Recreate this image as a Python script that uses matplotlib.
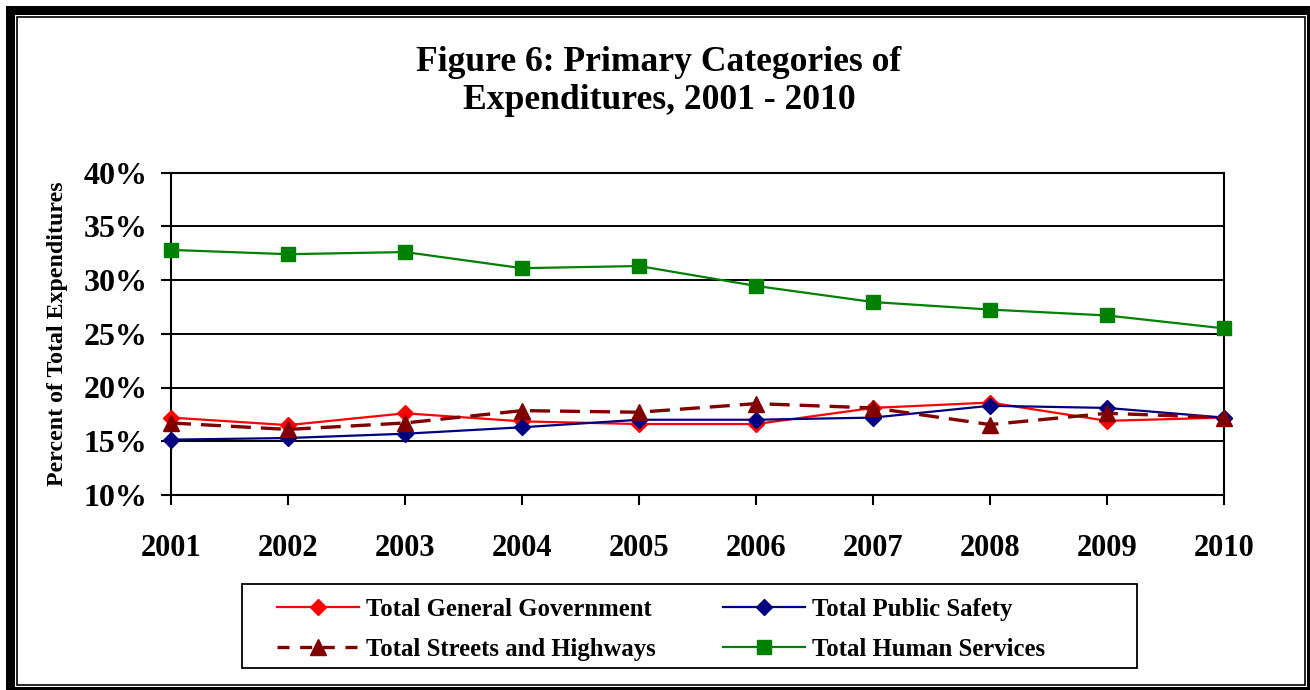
import matplotlib
matplotlib.use("Agg")
import matplotlib.pyplot as plt
from matplotlib.lines import Line2D
from matplotlib.patches import Rectangle
from matplotlib.ticker import FuncFormatter

# Share of total expenditures (percent), by year
years = ["2001", "2002", "2003", "2004", "2005", "2006", "2007", "2008", "2009", "2010"]
general_government = [17.2, 16.5, 17.6, 16.85, 16.6, 16.6, 18.1, 18.6, 16.9, 17.2]
public_safety = [15.15, 15.3, 15.7, 16.3, 17.0, 17.0, 17.2, 18.3, 18.1, 17.2]
streets_highways = [16.7, 16.1, 16.7, 17.85, 17.7, 18.5, 18.1, 16.55, 17.6, 17.2]
human_services = [32.8, 32.4, 32.6, 31.1, 31.3, 29.45, 27.95, 27.25, 26.7, 25.5]

series_labels = ["Total General Government", "Total Public Safety",
                 "Total Streets and Highways", "Total Human Services"]
y_ticks = [10, 15, 20, 25, 30, 35, 40]

plt.rcParams["font.family"] = ["Liberation Serif", "DejaVu Serif"]
plt.rcParams["font.weight"] = "bold"

W, H = 1310, 690
fig = plt.figure(figsize=(W / 100, H / 100), dpi=100)
fig.patch.set_facecolor("white")


def fx(px):
    return px / W


def fy(py):
    return 1 - py / H


# Double frame around the chart
fig.add_artist(Rectangle((fx(6), 0), 1 - fx(6), fy(6), transform=fig.transFigure,
                         facecolor="black", edgecolor="none", zorder=-10))
fig.add_artist(Rectangle((fx(14.5), fy(687)), fx(1307 - 14.5), (687 - 14.5) / H,
                         transform=fig.transFigure, facecolor="white",
                         edgecolor="none", zorder=-9))
fig.add_artist(Rectangle((fx(16.8), fy(685.3)), fx(1305 - 16.8), (685.3 - 16.8) / H,
                         transform=fig.transFigure, facecolor="none",
                         edgecolor="black", linewidth=1.2, zorder=-8))

# Legend box
fig.add_artist(Rectangle((fx(242), fy(668)), fx(1137 - 242), (668 - 584) / H,
                         transform=fig.transFigure, facecolor="white",
                         edgecolor="black", linewidth=1.3, zorder=-5))

ax = fig.add_axes([fx(171), fy(495), fx(1224 - 171), (495 - 172.5) / H])
ax.set_facecolor("white")

x = list(range(len(years)))
l_gen, = ax.plot(x, general_government, color="#FF0000", lw=1.6, marker="D",
                 ms=8, mec="#FF0000", mfc="#FF0000", clip_on=False, zorder=3)
l_ps, = ax.plot(x, public_safety, color="#000080", lw=1.6, marker="D",
                ms=8, mec="#000080", mfc="#000080", clip_on=False, zorder=4)
l_st, = ax.plot(x, streets_highways, color="#800000", lw=2.4, marker="^",
                ms=11, mec="#800000", mfc="#800000", dashes=(6, 3),
                clip_on=False, zorder=5)
l_hs, = ax.plot(x, human_services, color="#008000", lw=1.6, marker="s",
                ms=10, mec="#008000", mfc="#008000", clip_on=False, zorder=6)

# Legend key for the dashed series uses a shorter dash pattern
st_key = Line2D([], [], color="#800000", lw=2.4, marker="^", ms=11,
                mec="#800000", mfc="#800000", dashes=(3.6, 3.2))

ax.set_xlim(0, len(years) - 1)
ax.set_ylim(10, 40)
ax.set_yticks(y_ticks)
ax.yaxis.set_major_formatter(FuncFormatter(lambda v, p: f"{v:.0f}%"))
ax.set_xticks(x)
ax.set_xticklabels(years)

ax.grid(axis="y", color="black", lw=1.4)
ax.set_axisbelow(True)
for s in ax.spines.values():
    s.set_color("black")
    s.set_linewidth(1.5)

ax.tick_params(axis="y", direction="out", length=7, width=1.5, pad=10,
               labelsize=23, right=False)
ax.tick_params(axis="x", direction="out", length=7, width=1.5, pad=21,
               labelsize=22, top=False)
for lbl in ax.get_xticklabels() + ax.get_yticklabels():
    lbl.set_fontweight("bold")

# Title and axis label
fig.text(fx(659), fy(71), "Figure 6: Primary Categories of", ha="center",
         va="baseline", fontsize=25.6, fontweight="bold")
fig.text(fx(659), fy(109), "Expenditures, 2001 - 2010", ha="center",
         va="baseline", fontsize=25.6, fontweight="bold")
fig.text(fx(58), fy(333.5), "Percent of Total Expenditures", rotation=90,
         ha="center", va="center", fontsize=17.2, fontweight="bold")

leg = ax.legend([l_gen, st_key, l_ps, l_hs],
                [series_labels[0], series_labels[2], series_labels[1], series_labels[3]],
                ncol=2, loc="upper left", bbox_to_anchor=(fx(277), fy(597.7)),
                bbox_transform=fig.transFigure, frameon=False, borderpad=0,
                borderaxespad=0, handlelength=3.3, handletextpad=0.28,
                columnspacing=2.75, labelspacing=0.69, numpoints=1,
                prop={"size": 17.8, "weight": "bold"})

fig.savefig("out.png", dpi=100, facecolor="white")
